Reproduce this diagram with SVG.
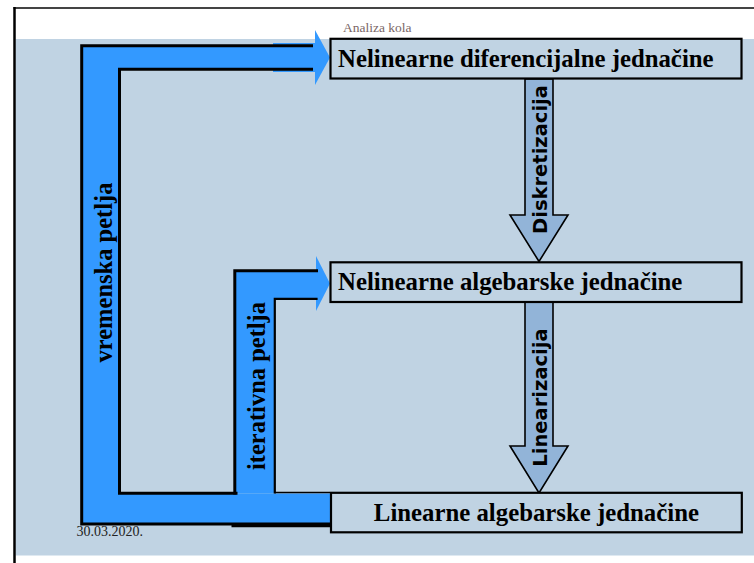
<svg xmlns="http://www.w3.org/2000/svg" width="754" height="563" viewBox="0 0 754 563">
<style>
.box{fill:#C0D3E3;stroke:#000;stroke-width:2.2}
.boxtxt{font-family:"Liberation Serif","Times New Roman",serif;font-weight:bold;font-size:24.8px;fill:#000}
.loop{fill:#3399FF;stroke:none}
.edge{fill:none;stroke:#000;stroke-width:3;stroke-linejoin:miter;stroke-linecap:square}
.down{fill:#92B4D8;stroke:#000;stroke-width:1.6;stroke-linejoin:miter}
.arrtxt{font-family:"DejaVu Sans",Verdana,sans-serif;font-weight:bold;font-size:19.5px;fill:#000}
.looptxt{font-family:"Liberation Serif","Times New Roman",serif;font-weight:bold;font-size:24.5px;fill:#000}
</style>
<rect x="0" y="0" width="754" height="563" fill="#fff"/>
<rect x="15.5" y="39" width="738.5" height="516.5" fill="#C0D3E3"/>
<line x1="13.5" y1="8" x2="754" y2="8" stroke="#444" stroke-width="2"/>
<line x1="14.5" y1="7" x2="14.5" y2="563" stroke="#000" stroke-width="2.5"/>
<text x="343" y="32" font-family="Liberation Serif,'Times New Roman',serif" font-size="13.5" fill="#7A6666">Analiza kola</text>
<text x="76.5" y="536" font-family="Liberation Serif,'Times New Roman',serif" font-size="14" fill="#222">30.03.2020.</text>

<g id="connectors">
  <g id="vremenska-petlja">
    <polygon class="loop" points="82,46 315,46 315,69.5 119.5,69.5 119.5,493.5 330,493.5 330,524 82,524"/>
    <rect class="loop" x="273" y="43" width="43" height="29"/>
    <polygon class="loop" points="315,30 330,57.5 315,85"/>
  </g>
  <g id="iterativna-petlja">
    <polygon class="loop" points="235,271 317,271 317,299 275,299 275,493.5 235,493.5"/>
    <polygon class="loop" points="316,256 330,283.5 316,311"/>
  </g>
  <polyline class="edge" points="311.5,45.7 81.7,45.7 81.7,524 330,524"/>
  <polyline class="edge" points="311.5,69.3 119.5,69.3 119.5,493.3 236,493.3"/>
  <polyline class="edge" points="316.5,270.7 234.8,270.7 234.8,493"/>
  <polyline class="edge" style="stroke-width:2.2" points="316.5,298.8 274.8,298.8 274.8,492.5"/>
  <line x1="274.8" y1="492.5" x2="330" y2="492.5" stroke="#000" stroke-width="1.5"/>
  <line x1="231.5" y1="526" x2="330" y2="526" stroke="#000" stroke-width="2.5"/>
  <text class="looptxt" transform="translate(111.5,272.5) rotate(-90)" text-anchor="middle">vremenska petlja</text>
  <text class="looptxt" transform="translate(265,386) rotate(-90)" text-anchor="middle">iterativna petlja</text>
  <g id="diskretizacija">
    <polygon class="down" points="525,79 553,79 553,215 568,215 539,261.5 510,215 525,215"/>
    <text class="arrtxt" transform="translate(546.5,159.5) rotate(-90)" text-anchor="middle">Diskretizacija</text>
  </g>
  <g id="linearizacija">
    <polygon class="down" points="525,302 553,302 553,446 568,446 539,493 510,446 525,446"/>
    <text class="arrtxt" transform="translate(546.5,397.5) rotate(-90)" text-anchor="middle">Linearizacija</text>
  </g>
</g>

<g id="node-nelinearne-diferencijalne">
  <rect class="box" x="330.5" y="38.8" width="411" height="39.7"/>
  <text class="boxtxt" x="338" y="66.7">Nelinearne diferencijalne jednačine</text>
</g>
<g id="node-nelinearne-algebarske">
  <rect class="box" x="330.5" y="262.3" width="411" height="39.7"/>
  <text class="boxtxt" x="338" y="290.3">Nelinearne algebarske jednačine</text>
</g>
<g id="node-linearne-algebarske">
  <rect class="box" x="331" y="492.8" width="410.8" height="39.5"/>
  <text class="boxtxt" x="536.4" y="520.7" text-anchor="middle">Linearne algebarske jednačine</text>
</g>
</svg>
